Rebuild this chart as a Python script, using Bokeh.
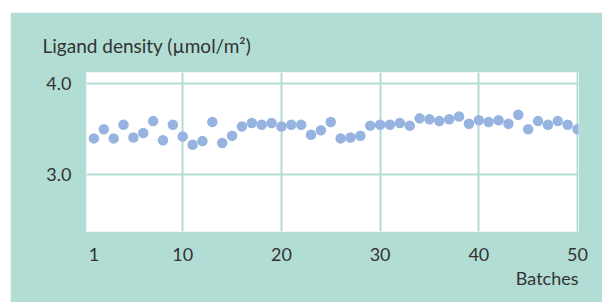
from bokeh.plotting import figure
from bokeh.models import FixedTicker, Range1d, ColumnDataSource, Title
from bokeh.embed import file_html
from bokeh.resources import INLINE

batches = list(range(1, 51))
density = [3.40, 3.50, 3.40, 3.55, 3.41, 3.46, 3.59, 3.38, 3.55, 3.42,
           3.33, 3.37, 3.58, 3.35, 3.43, 3.53, 3.57, 3.55, 3.57, 3.53,
           3.55, 3.55, 3.44, 3.49, 3.58, 3.40, 3.41, 3.43, 3.54, 3.55,
           3.55, 3.57, 3.54, 3.62, 3.61, 3.59, 3.61, 3.64, 3.56, 3.60,
           3.58, 3.60, 3.56, 3.66, 3.50, 3.59, 3.55, 3.59, 3.55, 3.50]
x_ticks = [1, 10, 20, 30, 40, 50]
x_grid = [10, 20, 30, 40, 50]
y_ticks = [3.0, 4.0]
y_tick_labels = {3.0: "3.0", 4.0: "4.0"}
y_title = "Ligand density (\u00b5mol/m\u00b2)"
x_title = "Batches"

BG = "#b2ddd4"
GRID = "#b2ddd4"
DOT = "#97b4e0"
TXT = "#333333"
FONT = "Lato"

p = figure(width=592, height=290, output_backend="svg", toolbar_location=None,
           x_range=Range1d(0.25, 50.1), y_range=Range1d(2.377, 4.124),
           min_border_left=76, min_border_right=24, min_border_top=60,
           min_border_bottom=71, margin=(12, 0, 0, 10))
p.border_fill_color = BG
p.background_fill_color = "white"
p.outline_line_color = None

src = ColumnDataSource(dict(x=batches, y=density))
p.scatter("x", "y", source=src, size=10.5, fill_color=DOT, line_color=None)

p.title.text = y_title
p.title.align = "left"
p.title.offset = -44
p.title.standoff = 31
p.title.text_font = FONT
p.title.text_font_size = "19px"
p.title.text_font_style = "normal"
p.title.text_color = TXT

p.add_layout(Title(text=x_title, align="right", standoff=2, text_font=FONT,
                   text_font_size="18px", text_font_style="normal",
                   text_color=TXT), "below")

p.xaxis.ticker = FixedTicker(ticks=x_ticks)
p.xgrid.ticker = FixedTicker(ticks=x_grid)
p.yaxis.ticker = FixedTicker(ticks=y_ticks)
p.yaxis.major_label_overrides = y_tick_labels
for ax in (p.xaxis[0], p.yaxis[0]):
    ax.axis_line_color = None
    ax.major_tick_line_color = None
    ax.minor_tick_line_color = None
    ax.major_label_text_font = FONT
    ax.major_label_text_font_size = "18px"
    ax.major_label_text_color = TXT
p.xaxis.major_label_standoff = 10
p.yaxis.major_label_standoff = 9

for g in (p.xgrid[0], p.ygrid[0]):
    g.grid_line_color = GRID
    g.grid_line_width = 2

open("out.html", "w").write(file_html(p, INLINE))
